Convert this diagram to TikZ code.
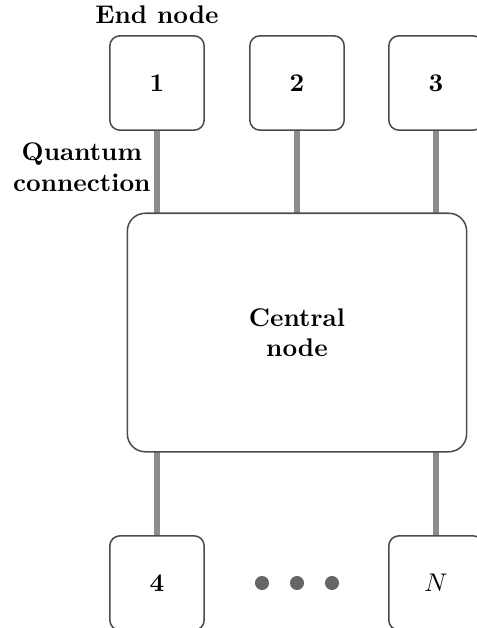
\documentclass[tikz,border=0pt]{standalone}
\usepackage{tikz}
\usetikzlibrary{positioning,calc}
\tikzstyle{endnode}=[draw=black!70, line width=0.6pt, fill=white, rounded corners=4pt, minimum width=37pt, minimum height=37pt, inner sep=0pt, font=\bfseries]
\tikzstyle{hub}=[draw=black!70, line width=0.6pt, fill=white, rounded corners=7pt, minimum width=133pt, minimum height=93.5pt, align=center, font=\bfseries]
\tikzstyle{qlink}=[draw=black!45, line width=2.4pt]
\tikzstyle{dot}=[circle, fill=black!60, inner sep=0pt, minimum size=5.5pt]

\begin{document}
\begin{tikzpicture}[x=0.392pt, y=-0.392pt]
  % page
  \useasboundingbox (0,0) rectangle (477,628);
  \clip (0,0) rectangle (477,628);

  % links (under the boxes)
  \coordinate (c1) at (157,213);
  \coordinate (c2) at (297,213);
  \coordinate (c3) at (436,213);
  \coordinate (c4) at (157,452);
  \coordinate (cN) at (436,452);

  % end nodes
  \node[endnode] (n1) at (157,83) {1};
  \node[endnode] (n2) at (297,83) {2};
  \node[endnode] (n3) at (436,83) {3};
  \node[endnode] (n4) at (157,583) {4};
  \node[endnode] (nN) at (436,583) {$N$};

  \draw[qlink] (n1) -- (c1);
  \draw[qlink] (n2) -- (c2);
  \draw[qlink] (n3) -- (c3);
  \draw[qlink] (c4) -- (n4);
  \draw[qlink] (cN) -- (nN);

  % central node
  \node[hub] (hub) at (297,332.5) {Central\\node};

  % dots
  \foreach \x/\i in {262/1,297/2,332/3}
    \node[dot] (d\i) at (\x,583) {};

  %labels
  \node[font=\bfseries] (lend) at (157,15) {End node};
  \node[font=\bfseries, align=center, anchor=east, inner sep=0pt] (lq) at (151,167) {Quantum\\connection};
\end{tikzpicture}
\end{document}
